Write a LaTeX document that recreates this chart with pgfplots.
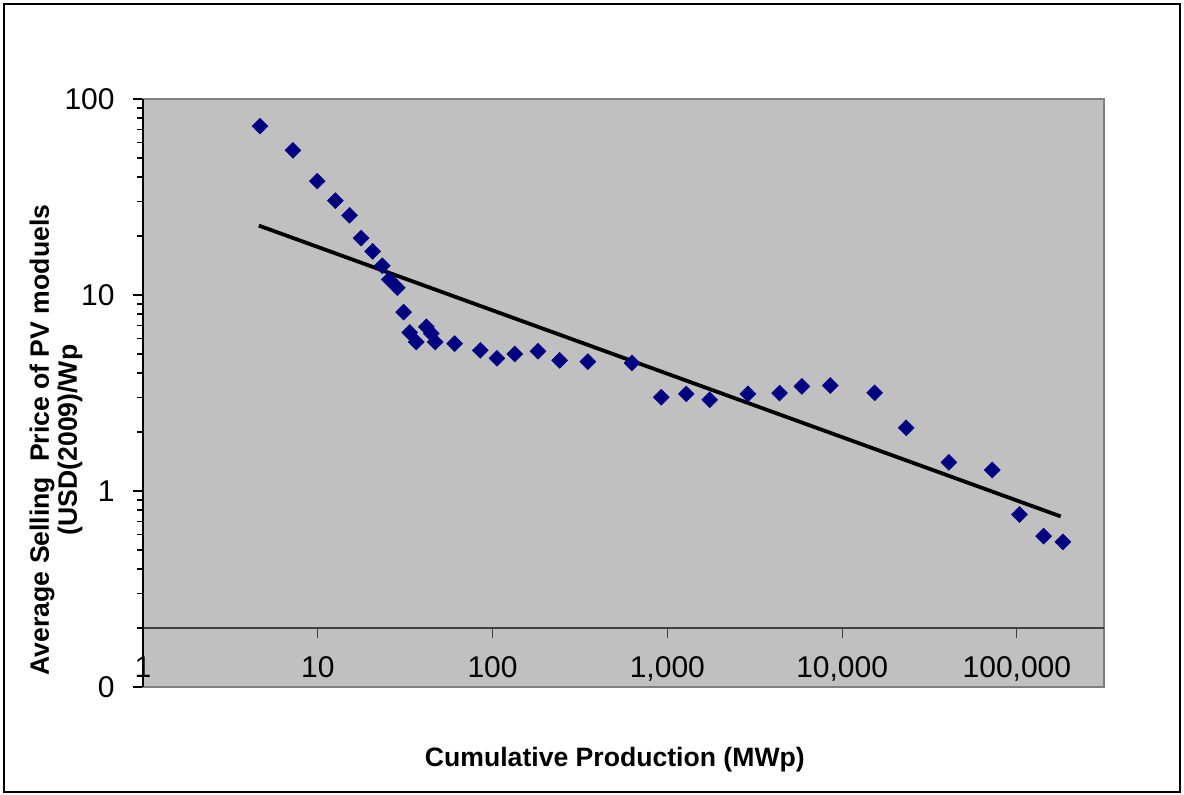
\documentclass[border=0pt]{standalone}
\usepackage{pgfplots}
\pgfplotsset{compat=1.18}
\usepackage{fontspec}
\setmainfont{Liberation Sans}
\definecolor{plotbg}{HTML}{C0C0C0}
\definecolor{navymark}{HTML}{000080}
\definecolor{boxgray}{HTML}{808080}
\definecolor{crossline}{HTML}{404040}

\pgfplotstableread{
x y
4.67 72.7
7.21 54.7
9.93 38.1
12.6 30.3
15.2 25.5
17.7 19.5
20.6 16.7
23.4 14.1
25.6 12.0
28.5 10.9
31.0 8.18
33.6 6.44
36.6 5.76
41.8 6.88
44.6 6.36
47.0 5.76
60.7 5.65
85.1 5.22
106 4.75
134 5.00
182 5.16
242 4.64
351 4.57
627 4.50
923 3.01
1283 3.13
1746 2.92
2891 3.13
4387 3.16
5888 3.42
8551 3.45
15350 3.17
23270 2.10
40820 1.40
72270 1.28
103500 0.759
142200 0.588
183300 0.550
}\pricedata

\pgfplotstableread{
x y
4.6 22.6
178000 0.742
}\trenddata

\begin{document}
\begin{tikzpicture}
\useasboundingbox (-71.5pt,-54pt) rectangle (520.5pt,343.5pt);
\begin{axis}[
  at={(0,0)}, anchor=south west,
  scale only axis,
  width=480.5pt, height=294pt,
  xmode=log, ymode=log,
  xmin=1, xmax=315000,
  ymin=0.1, ymax=100,
  axis background/.style={fill=plotbg},
  axis line style={draw=boxgray, line width=1pt},
  xtick={1,10,100,1000,10000,100000},
  xticklabels={1,10,100,{1,000},{10,000},{100,000}},
  ytick={0.1,1,10,100},
  yticklabels={0,1,10,100},
  minor xtick={}, minor ytick={},
  xtick style={draw=none},
  ytick pos=left,
  ytick style={draw=black, line width=0.6pt},
  tick align=outside,
  major tick length=5pt,
  tick label style={font=\fontsize{15}{18}\selectfont},
  xticklabel style={anchor=base, yshift=9.5pt, inner sep=0pt},
  yticklabel style={anchor=east, inner sep=0pt, xshift=-9pt},
  xlabel={Cumulative Production (MWp)},
  xlabel style={at={(axis description cs:0.491,-0.124)}, anchor=center,
    font=\bfseries\fontsize{13.3}{16}\selectfont},
  ylabel={Average Selling\ \ Price of PV moduels\\(USD(2009)/Wp},
  ylabel style={at={(axis description cs:-0.0905,0.42)}, anchor=center,
    align=center, font=\bfseries\fontsize{13.3}{14}\selectfont},
  clip=false,
]
\addplot[only marks, mark=square*, mark size=2.75pt,
  mark options={rotate=45, fill=navymark, draw=navymark}] table[x=x,y=y] {\pricedata};
\addplot[black, line width=1.9pt, no marks] table[x=x,y=y] {\trenddata};
% x-axis line crossing at 0.2 with its tick marks
\draw[crossline, line width=0.75pt] (axis cs:1,0.2) -- (axis cs:315000,0.2);
\draw[crossline, line width=0.5pt] (axis cs:10,0.2) -- ([yshift=-5pt]axis cs:10,0.2);
\draw[crossline, line width=0.5pt] (axis cs:100,0.2) -- ([yshift=-5pt]axis cs:100,0.2);
\draw[crossline, line width=0.5pt] (axis cs:1000,0.2) -- ([yshift=-5pt]axis cs:1000,0.2);
\draw[crossline, line width=0.5pt] (axis cs:10000,0.2) -- ([yshift=-5pt]axis cs:10000,0.2);
\draw[crossline, line width=0.5pt] (axis cs:100000,0.2) -- ([yshift=-5pt]axis cs:100000,0.2);
% left axis line in black
\draw[black, line width=0.9pt] (rel axis cs:0,0) -- (rel axis cs:0,1);
\end{axis}
\draw[black, line width=0.8pt] (-69.5pt,-52.5pt) rectangle (518.5pt,341.5pt);
\end{tikzpicture}
\end{document}
